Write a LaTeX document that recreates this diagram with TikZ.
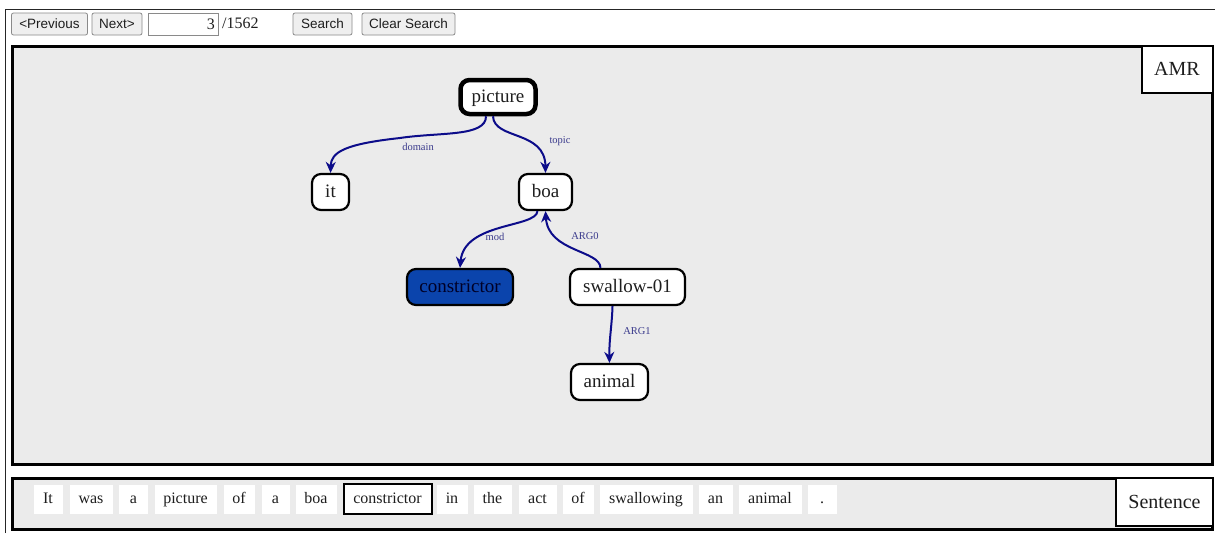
\documentclass[tikz,border=0pt]{standalone}
\usepackage{fontspec}
\setmainfont{Liberation Serif}
\setsansfont{Liberation Sans}
\usetikzlibrary{arrows.meta}
\definecolor{panelbg}{HTML}{EBEBEB}
\definecolor{btnbg}{HTML}{EFEFEF}
\definecolor{btnborder}{HTML}{8A8A8A}
\definecolor{edgecol}{HTML}{0C0C8A}
\definecolor{labcol}{HTML}{3A3A8C}
\definecolor{blueFill}{HTML}{0B44AC}
\definecolor{txt}{HTML}{1E1E1E}
\tikzset{
  btn/.style={draw=btnborder, fill=btnbg, line width=0.8pt, rounded corners=2pt,
    inner sep=0pt, minimum height=22, text=txt, text height=10.5pt, text depth=1.5pt,
    font=\sffamily\fontsize{13.5}{16}\selectfont},
  amrnode/.style={draw=black, fill=white, line width=2.2pt, rounded corners=9pt,
    inner sep=0pt, minimum height=36, text=txt, text height=14pt, text depth=3pt,
    font=\fontsize{19}{22}\selectfont},
  edge/.style={draw=edgecol, line width=2pt, -{Stealth[length=11pt,width=10pt,inset=3.5pt]}},
  elab/.style={text=labcol, font=\fontsize{10.5}{12}\selectfont, inner sep=1pt},
  word/.style={fill=white, draw=white!92!black, line width=0.4pt, inner sep=0pt,
    minimum height=30, text=txt, text height=12pt, text depth=3pt,
    font=\fontsize{16}{19}\selectfont},
  panellab/.style={draw=black, fill=white, line width=2pt, inner sep=0pt,
    text=txt, text height=15pt, text depth=3pt, font=\fontsize{20}{24}\selectfont},
}
\begin{document}
\begin{tikzpicture}[x=1pt,y=-1pt]
\useasboundingbox (0,0) rectangle (1215,533);
\fill[white] (0,0) rectangle (1215,533);
% page frame
\draw[black!85, line width=1pt] (5.5,533) -- (5.5,9) -- (1215,9);
% toolbar
\node[btn, minimum width=76] (prev) at (49.5,24) {<Previous};
\node[btn, minimum width=50] (next) at (117,24) {Next>};
\node[draw=btnborder, fill=white, line width=0.8pt, inner sep=0pt,
  minimum width=70, minimum height=22] (pageinput) at (183,24) {};
\node[anchor=east, inner sep=0pt, text=txt, font=\fontsize{16}{19}\selectfont]
  (pagenum) at (215,24) {3};
\node[anchor=west, inner sep=0pt, text=txt, font=\fontsize{16}{19}\selectfont]
  (pagetotal) at (222,23) {/1562};
\node[btn, minimum width=59] (search) at (322.5,24) {Search};
\node[btn, minimum width=93] (clear) at (408.5,24) {Clear Search};
% AMR panel
\draw[line width=3pt, fill=panelbg] (12,46) rectangle (1212,464);
\node[panellab, minimum width=71, minimum height=47] (amrlabel) at (1177,69.5) {AMR};
% AMR nodes
\node[amrnode, line width=4.5pt, minimum width=75, minimum height=34] (picture) at (498,97) {picture};
\node[amrnode, minimum width=37] (it) at (330.5,192) {it};
\node[amrnode, minimum width=53] (boa) at (545.5,192) {boa};
\node[amrnode, fill=blueFill, text=black!85!blue, minimum width=106] (constrictor) at (460,287) {constrictor};
\node[amrnode, minimum width=115] (swallow) at (627.5,287) {swallow-01};
\node[amrnode, minimum width=77] (animal) at (609.5,382) {animal};
% edges
\path[edge] ([xshift=-12pt]picture.south) .. controls (486,137) and (440,132) .. (400,138)
  .. controls (345,144) and (331,152) .. (it.north);
\path[edge] ([xshift=-5pt]picture.south) .. controls (494,140) and (545,130) .. (boa.north);
\path[edge] ([xshift=-8pt]boa.south) .. controls (536,228) and (464,222) .. (constrictor.north);
\path[edge] ([xshift=-27pt]swallow.north) .. controls (600,250) and (548,252) .. (boa.south);
\path[edge] ([xshift=-15pt]swallow.south) .. controls (612,325) and (609,340) .. (animal.north);
% edge labels
\node[elab] (ldomain) at (418,147) {domain};
\node[elab] (ltopic) at (560,141.5) {topic};
\node[elab] (lmod) at (495,236.5) {mod};
\node[elab] (larg0) at (585,236.5) {ARG0};
\node[elab] (larg1) at (637,331.5) {ARG1};
% Sentence panel
\draw[line width=3pt, fill=panelbg] (12,478) rectangle (1212,529.5);
\node[panellab, minimum width=97, minimum height=48] (sentlabel) at (1164.5,502) {Sentence};
% words
\node[word, minimum width=30] (w1) at (48,499) {It};
\node[word, minimum width=44] (w2) at (91,499) {was};
\node[word, minimum width=30] (w3) at (133.5,499) {a};
\node[word, minimum width=63] (w4) at (185.5,499) {picture};
\node[word, minimum width=32] (w5) at (239,499) {of};
\node[word, minimum width=29] (w6) at (275.5,499) {a};
\node[word, minimum width=42] (w7) at (316,499) {boa};
\node[word, draw=black, line width=2pt, minimum width=88, minimum height=30] (w8) at (387.5,499) {constrictor};
\node[word, minimum width=32] (w9) at (452,499) {in};
\node[word, minimum width=39] (w10) at (492.5,499) {the};
\node[word, minimum width=39] (w11) at (537.5,499) {act};
\node[word, minimum width=32] (w12) at (578,499) {of};
\node[word, minimum width=94] (w13) at (646,499) {swallowing};
\node[word, minimum width=35] (w14) at (715.5,499) {an};
\node[word, minimum width=64] (w15) at (770,499) {animal};
\node[word, minimum width=30] (w16) at (822,499) {.};
\end{tikzpicture}
\end{document}
